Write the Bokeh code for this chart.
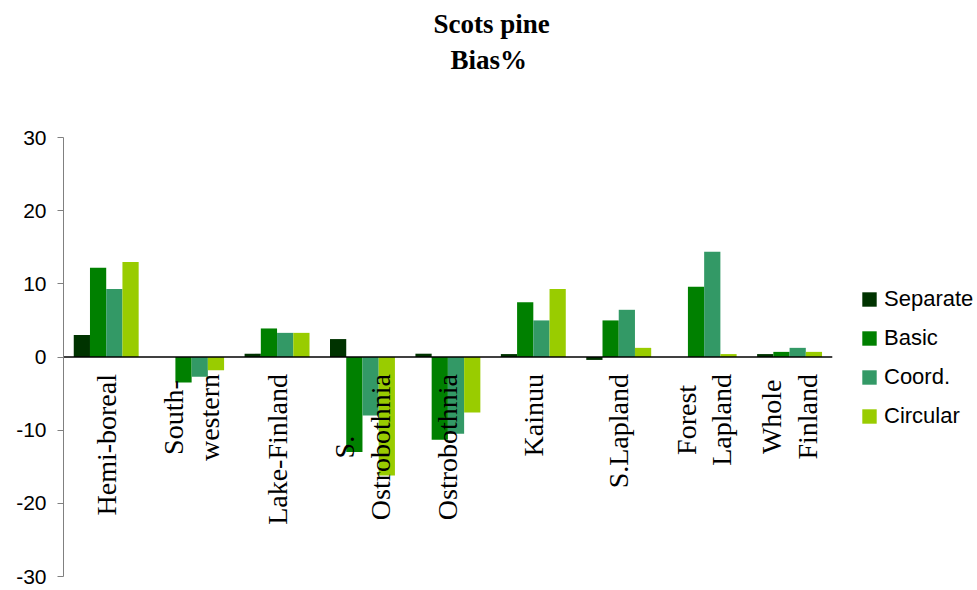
import math
from bokeh.plotting import figure
from bokeh.models import ColumnDataSource, Range1d, FixedTicker, Legend, LegendItem, Title
from bokeh.transform import dodge
from bokeh.core.properties import value
from bokeh.embed import file_html
from bokeh.resources import INLINE

regions = ["Hemi-boreal", "South-western", "Lake-Finland", "S. Ostrobothnia", "Ostrobothnia",
           "Kainuu", "S.Lapland", "Forest Lapland", "Whole Finland"]
region_labels = ["Hemi-boreal", "South-\nwestern", "Lake-Finland", "S.\nOstrobothnia", "Ostrobothnia",
                 "Kainuu", "S.Lapland", "Forest\nLapland", "Whole\nFinland"]
series_names = ["Separate", "Basic", "Coord.", "Circular"]
separate = [3.0, 0.0, 0.45, 2.45, 0.45, 0.4, -0.4, 0.0, 0.4]
basic = [12.2, -3.5, 3.9, -13.0, -11.3, 7.5, 5.0, 9.6, 0.7]
coord = [9.3, -2.7, 3.3, -8.0, -10.5, 5.0, 6.45, 14.4, 1.25]
circular = [13.0, -1.8, 3.3, -16.2, -7.6, 9.3, 1.25, 0.4, 0.7]
y_ticks = [-30, -20, -10, 0, 10, 20, 30]
colors = ["#003300", "#008000", "#339966", "#99CC00"]

n = len(regions)
pos = [i + 0.5 for i in range(n)]  # category slot centres
src = ColumnDataSource(dict(pos=pos, region=regions, Separate=separate, Basic=basic,
                            Coord=coord, Circular=circular))

p = figure(width=977, height=590,
           x_range=Range1d(0, 10.7),
           y_range=Range1d(-30, 30),
           x_axis_location=None,
           output_backend="svg", toolbar_location=None,
           min_border_left=63, min_border_right=0,
           min_border_top=137, min_border_bottom=14)

bw = 0.19
offsets = [-1.5 * bw, -0.5 * bw, 0.5 * bw, 1.5 * bw]
fields = ["Separate", "Basic", "Coord", "Circular"]
renderers = []
for f, off, c in zip(fields, offsets, colors):
    r = p.vbar(x=dodge("pos", off), top=f, bottom=0, width=bw,
               source=src, fill_color=c, line_color=None)
    renderers.append(r)

# category axis line crossing at zero, across the category slots
p.segment(x0=[0], x1=[n], y0=[0], y1=[0], line_color="black", line_width=1.3)

lab_src = ColumnDataSource(dict(x=pos, y=[0] * n, text=region_labels))
p.text(x="x", y="y", text="text", source=lab_src, angle=math.pi / 2,
       anchor=value("center_right"), text_align="center", y_offset=17,
       text_font=value("Liberation Serif"), text_font_size=value("28px"),
       text_line_height=1.15, text_color="black")

legend = Legend(items=[LegendItem(label=nm, renderers=[r]) for nm, r in zip(series_names, renderers)],
                location=(797, 147), orientation="vertical",
                glyph_width=18, glyph_height=18, label_height=22, spacing=13,
                label_standoff=6, padding=0, margin=0,
                border_line_color=None, background_fill_alpha=0,
                label_text_font="Liberation Sans", label_text_font_size="22px",
                label_text_color="black")
p.add_layout(legend)

p.yaxis.ticker = FixedTicker(ticks=y_ticks)
p.yaxis.major_label_overrides = {t: str(t) for t in y_ticks}
p.yaxis.minor_tick_line_color = None
p.yaxis.major_tick_in = 0
p.yaxis.major_tick_out = 6
p.yaxis.axis_line_color = "#808080"
p.yaxis.major_tick_line_color = "#808080"
p.yaxis.major_label_text_font = "Liberation Sans"
p.yaxis.major_label_text_font_size = "21px"
p.yaxis.major_label_text_color = "black"
p.yaxis.major_label_standoff = 11

p.grid.visible = False
p.outline_line_color = None

p.title = None
# spacer between plot frame and titles
p.add_layout(Title(text=" ", text_font_size="1px", standoff=59), "above")
title_lines = ["Bias%", "Scots pine"]
title_offsets = [387, 370]
title_standoffs = [2, 6]
for t, off, so in zip(title_lines, title_offsets, title_standoffs):
    p.add_layout(Title(text=t, align="left", offset=off, standoff=so,
                       text_font="Liberation Serif", text_font_style="bold",
                       text_font_size="27px", text_color="black"), "above")

open("out.html", "w").write(file_html(p, INLINE))
